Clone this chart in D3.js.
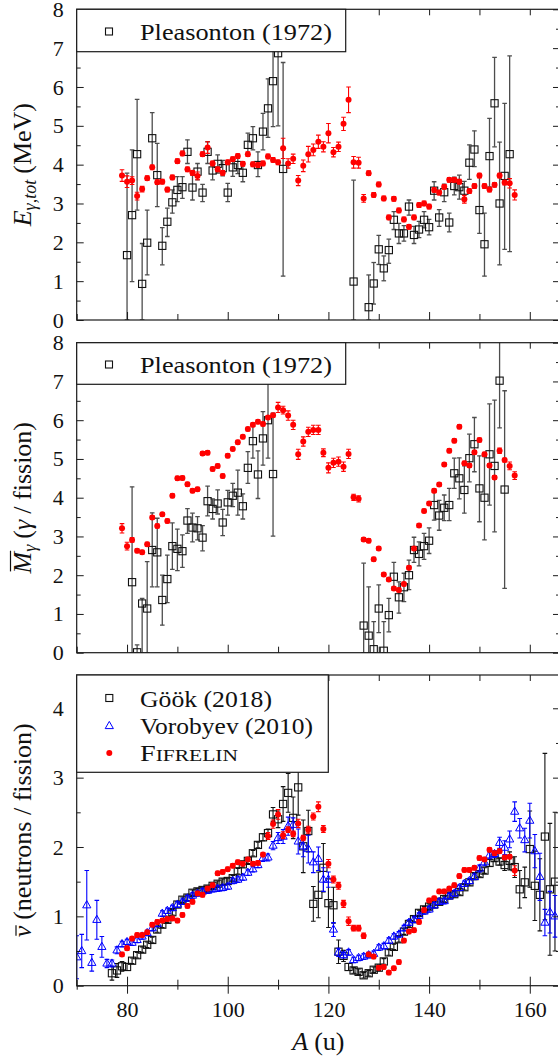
<!DOCTYPE html>
<html>
  <head>
    <meta charset="utf-8">
    <title>Fission observables vs fragment mass</title>
    <script src="https://cdn.jsdelivr.net/npm/d3@7"></script>
    <style>
      body { margin: 0; background: #fff; }
      svg text { font-family: "Liberation Serif", "Times New Roman", serif; fill: #111; }
    </style>
  </head>
  <body>
    <script>

      // ---- Pleasonton (1972), total gamma energy
      var pleasE_A = [80,81,82,83,84,85,86,87,88,89,90,91,92,93,94,95,96,97,98,99,100,101,102,103,104,105,106,107,108,109,110,111,
                      125,128,129,130,131,132,133,134,135,136,137,138,139,140,141,142,143,144,145,146,147,148,149,150,151,152,153,154,155,156];
      var pleasE = [1.67,2.70,4.27,0.93,1.99,4.68,3.73,1.91,2.53,3.03,3.35,3.42,4.33,3.41,3.82,3.28,4.33,3.85,4.02,3.91,
                    3.28,3.93,3.99,3.79,4.51,4.68,3.99,4.85,5.45,6.15,6.87,3.89,
                    0.99,0.33,0.94,1.82,1.33,1.80,2.58,2.23,2.23,2.92,2.19,2.33,2.58,2.39,3.33,2.64,3.29,2.51,3.45,3.42,3.33,
                    4.05,4.39,2.83,1.95,4.22,5.58,3.00,3.71,4.27];
      var pleasE_lo = [0,0.99,2.83,0,1.16,3.95,2.92,1.42,2.15,2.75,3.05,3.13,4.03,3.09,3.61,3.05,4.03,3.61,3.78,3.71,
                       3.05,3.70,3.77,3.56,4.25,4.38,3.69,4.38,4.70,4.98,5.00,1.13,
                       0,0,0.41,1.43,1.01,1.46,2.33,1.97,2.03,2.70,1.97,2.12,2.37,2.19,3.09,2.41,3.05,2.27,3.22,3.11,3.07,
                       3.62,3.95,2.23,1.13,3.43,4.46,1.42,1.82,1.76];
      var pleasE_hi = [3.78,4.38,5.68,1.97,2.83,5.34,4.55,2.38,2.88,3.35,3.69,3.69,4.64,3.73,4.03,3.49,4.59,4.08,4.25,4.11,
                       3.52,4.16,4.21,4.02,4.81,4.98,4.33,5.32,6.21,6.95,8.50,6.63,
                       3.60,1.16,1.48,2.18,1.65,2.08,2.79,2.49,2.43,3.09,2.41,2.54,2.79,2.59,3.56,2.84,3.50,2.75,3.68,3.73,3.57,
                       4.51,4.87,3.69,2.75,5.19,6.76,4.58,5.58,6.80];

      // ---- Pleasonton (1972), gamma multiplicity
      var pleasM_A = [81,82,83,84,85,86,87,88,89,90,91,92,93,94,95,96,97,98,99,100,101,102,103,104,105,106,107,108,109,
                      127,128,129,130,131,132,133,134,135,136,137,138,139,140,141,142,143,144,145,146,147,148,149,150,151,152,153,154,155];
      var pleasM = [1.82,0.01,1.27,1.14,2.65,2.59,1.36,1.90,2.75,2.68,2.62,3.41,3.23,3.21,2.97,3.91,3.71,3.85,3.36,3.88,
                    4.05,4.13,3.78,4.77,5.46,4.60,5.53,6.00,4.61,
                    0.70,0.44,0.09,1.14,0.05,0.97,1.96,1.43,1.69,2.00,2.65,2.55,2.75,2.89,3.81,3.54,3.74,3.81,4.63,4.50,
                    4.20,5.02,5.38,4.24,4.00,5.12,4.82,7.02,4.21];
      var pleasM_lo = [0,0,0,0,1.70,1.70,0.71,1.29,2.15,2.12,2.20,3.08,2.86,2.91,2.63,3.53,3.45,3.58,3.02,3.55,
                       3.77,3.55,3.45,4.37,5.02,3.98,4.84,5.02,3.01,
                       0,0,0,0.52,0,0.54,1.62,1.02,1.32,1.63,2.33,2.24,2.41,2.56,3.42,3.16,3.41,3.41,4.24,3.97,
                       3.60,4.41,4.67,3.38,2.91,3.81,3.12,5.80,1.66];
      var pleasM_hi = [4.28,0.20,1.40,2.35,3.61,3.47,2.00,2.52,3.35,3.19,3.04,3.72,3.60,3.51,3.28,4.30,3.97,4.20,3.70,4.19,
                       4.37,4.71,4.10,5.19,5.85,5.21,6.22,7.20,6.18,
                       2.31,1.70,0.80,1.75,0.80,1.40,2.33,1.83,2.05,2.39,2.98,2.86,3.08,3.22,4.14,3.93,4.07,4.24,5.02,5.03,
                       4.82,5.64,6.07,5.08,5.06,6.42,6.52,8.50,6.76];

      // ---- FIFRELIN (same masses in all three panels)
      var fifA = [79,80,81,82,83,84,85,86,87,88,89,90,91,92,93,94,95,96,97,98,99,100,101,102,103,104,105,106,107,108,
                  109,110,111,112,113,114,115,116,117,118,119,120,121,122,123,124,125,126,127,128,129,130,131,132,133,134,135,136,137,138,
                  139,140,141,142,143,144,145,146,147,148,149,150,151,152,153,154,155,156,157];
      var fifE = [3.72,3.56,3.59,3.19,3.37,3.65,3.93,3.55,3.56,3.36,
                  3.67,4.09,4.29,3.88,3.79,3.71,4.27,4.44,4.03,3.88,
                  3.79,4.06,4.14,4.22,4.02,4.27,4.01,3.99,4.03,4.21,
                  4.12,4.06,4.42,4.03,4.15,3.59,3.97,4.27,4.38,4.59,
                  4.46,4.81,4.32,4.46,5.05,5.67,4.06,4.05,3.13,3.78,
                  3.22,3.49,3.13,2.64,3.12,2.82,2.59,2.40,2.64,2.96,
                  3.00,2.92,3.35,3.28,3.43,3.61,3.61,3.56,3.11,3.32,
                  3.45,3.72,3.45,3.36,3.48,3.72,3.54,3.52,3.22];
      var fifE_err = [.15,.15,.10,.10,.07,.06,.06,.06,.06,.06,
                      .06,.06,.06,.06,.06,.10,.06,.15,.06,.06,
                      .06,.06,.06,.06,.06,.06,.06,.06,.06,.06,
                      .06,.06,.26,.12,.12,.13,.15,.20,.15,.17,
                      .13,.25,.12,.12,.17,.33,.15,.14,.10,.06,
                      .06,.06,.06,.06,.06,.06,.06,.06,.06,.06,
                      .06,.06,.06,.06,.06,.06,.06,.06,.10,.06,
                      .06,.06,.06,.06,.06,.06,.06,.12,.13];
      var fifM = [3.21,2.75,2.91,2.63,2.59,2.80,3.49,3.27,3.57,3.40,
                  4.05,4.50,4.51,4.35,4.18,4.22,5.14,5.16,4.74,4.82,
                  4.56,5.08,5.26,5.43,5.57,5.77,5.88,5.96,5.90,6.07,
                  6.13,6.33,6.26,6.12,5.88,5.12,5.45,5.70,5.75,5.75,
                  5.16,4.77,4.90,4.93,4.80,5.13,4.01,3.97,2.92,2.89,
                  2.41,2.69,2.02,1.89,1.66,1.62,1.77,2.19,2.69,3.28,
                  3.66,3.85,4.18,4.34,4.86,5.21,5.47,5.83,4.89,4.83,
                  5.17,5.49,5.12,4.83,4.52,5.21,4.97,4.82,4.57];
      var fifM_err = [.12,.10,.06,.05,.05,.05,.05,.05,.05,.05,
                      .05,.05,.05,.05,.05,.05,.05,.05,.05,.05,
                      .05,.05,.05,.05,.05,.05,.05,.05,.05,.05,
                      .05,.13,.10,.12,.12,.13,.12,.12,.12,.12,
                      .10,.13,.12,.12,.12,.12,.08,.08,.05,.05,
                      .05,.05,.05,.05,.05,.05,.05,.05,.05,.05,
                      .05,.05,.05,.05,.05,.05,.05,.05,.05,.05,
                      .05,.05,.05,.05,.05,.07,.05,.10,.10];
      var fifNu = [0.45,0.54,0.68,0.73,0.73,0.77,0.88,0.92,0.94,0.96,
                   0.97,0.94,1.02,1.15,1.21,1.33,1.31,1.40,1.45,1.62,
                   1.64,1.68,1.73,1.78,1.76,1.82,1.76,1.77,1.89,2.16,
                   2.33,2.47,2.17,2.25,2.19,2.34,2.13,2.25,2.44,2.58,
                   2.26,1.76,1.53,1.44,1.18,0.93,0.83,0.83,0.72,0.45,
                   0.42,0.26,0.27,0.19,0.25,0.34,0.65,0.78,0.80,0.92,
                   1.09,1.23,1.26,1.36,1.36,1.40,1.45,1.58,1.67,1.67,
                   1.70,1.84,1.82,1.96,1.91,1.94,1.85,1.86,1.66];
      var fifNu_err = [.03,.03,.03,.03,.03,.03,.03,.03,.03,.03,
                       .03,.03,.03,.03,.03,.03,.03,.03,.03,.03,
                       .03,.03,.03,.03,.03,.03,.03,.03,.03,.05,
                       .06,.07,.05,.04,.04,.06,.04,.05,.05,.07,
                       .05,.06,.05,.05,.05,.06,.04,.04,.04,.03,
                       .03,.03,.03,.03,.03,.03,.03,.03,.03,.03,
                       .03,.03,.03,.03,.03,.03,.03,.03,.03,.03,
                       .03,.03,.03,.03,.03,.03,.03,.03,.07];

      // ---- Göök (2018), neutron multiplicity
      var gookA = [77,78,79,80,81,82,83,84,85,86,87,88,89,90,91,92,93,94,95,96,97,98,99,100,101,102,103,104,105,106,
                   107,108,109,110,111,112,113,114,115,116,117,118,119,120,121,122,123,124,125,126,127,128,129,130,131,132,133,134,135,136,
                   137,138,139,140,141,142,143,144,145,146,147,148,149,150,151,152,153,154,155,156,157,158,159,160,161,162,163,164,165];
      var gookNu = [0.18,0.22,0.28,0.27,0.36,0.44,0.52,0.59,0.66,0.81,
                    0.88,0.95,1.06,1.17,1.24,1.27,1.34,1.36,1.38,1.40,
                    1.44,1.47,1.50,1.51,1.55,1.65,1.75,1.80,1.91,2.03,
                    2.14,2.20,2.47,2.40,2.62,2.78,2.42,2.86,2.01,2.23,
                    1.18,1.31,1.70,1.19,1.16,0.49,0.43,0.27,0.22,0.20,
                    0.15,0.18,0.23,0.26,0.35,0.48,0.56,0.67,0.78,0.89,
                    0.96,1.05,1.10,1.14,1.17,1.21,1.25,1.30,1.32,1.35,
                    1.42,1.49,1.58,1.61,1.66,1.77,1.84,1.79,1.74,1.80,
                    1.71,1.39,1.49,1.97,1.44,1.31,2.15,1.39,1.50];
      var gookErr = [.10,.10,.07,.05,.04,.04,.04,.04,.04,.04,
                     .04,.04,.04,.04,.04,.04,.04,.04,.04,.04,
                     .04,.04,.04,.04,.04,.04,.04,.04,.04,.04,
                     .05,.06,.10,.12,.25,.28,.30,.40,.38,.30,
                     .25,.33,.35,.35,.26,.17,.08,.05,.04,.04,
                     .04,.04,.04,.04,.04,.04,.04,.04,.04,.04,
                     .04,.04,.04,.04,.04,.04,.04,.04,.04,.04,
                     .04,.04,.04,.04,.04,.05,.05,.05,.08,.13,
                     .15,.27,.22,.55,.50,.52,1.20,.95,1.00];

      // ---- Vorobyev (2010), neutron multiplicity
      var vorA = [70,71,72,73,74,75,76,77,78,79,80,81,82,83,84,85,86,87,88,89,90,91,92,93,94,95,96,97,98,99,
                  100,101,102,103,104,105,106,107,108,109,110,111,112,113,114,115,116,117,118,119,120,121,122,123,124,125,126,127,128,129,
                  130,131,132,133,134,135,136,137,138,139,140,141,142,143,144,145,146,147,148,149,150,151,152,153,154,155,156,157,158,159,
                  160,161,162,163,164,165];
      var vorNu = [0.41,0.50,1.16,0.33,0.95,0.56,0.32,0.32,0.51,0.60,
                   0.63,0.62,0.66,0.71,0.76,0.83,0.89,1.04,1.08,1.12,
                   1.17,1.21,1.26,1.30,1.33,1.36,1.37,1.39,1.40,1.41,
                   1.43,1.51,1.53,1.56,1.63,1.68,1.74,1.84,1.85,2.02,
                   2.13,2.15,2.30,2.32,2.08,2.01,1.97,1.78,1.83,1.53,
                   1.53,0.81,0.48,0.44,0.48,0.37,0.40,0.42,0.44,0.46,
                   0.55,0.57,0.65,0.71,0.74,0.83,0.91,0.95,1.01,1.07,
                   1.10,1.16,1.21,1.22,1.29,1.33,1.41,1.47,1.51,1.57,
                   1.69,1.78,1.88,1.90,2.06,1.99,2.11,2.51,2.27,2.10,
                   2.38,1.94,1.57,0.91,1.06,1.00];
      var vorErr = [.31,.24,.50,.12,.28,.15,.06,.05,.05,.04,
                    .04,.04,.04,.04,.04,.04,.04,.04,.04,.04,
                    .04,.04,.04,.04,.04,.04,.04,.04,.04,.04,
                    .04,.04,.04,.04,.04,.04,.04,.05,.05,.06,
                    .08,.10,.13,.10,.18,.15,.20,.15,.17,.17,
                    .11,.10,.06,.04,.04,.04,.04,.04,.04,.04,
                    .04,.04,.04,.04,.04,.04,.04,.04,.04,.04,
                    .04,.04,.04,.04,.04,.04,.04,.04,.04,.04,
                    .05,.05,.05,.05,.08,.10,.12,.14,.14,.17,
                    .25,.24,.34,.19,.30,.30];

      var xTickLabels = [80, 100, 120, 140, 160];

      // ---------------------------------------------------------------
      var svg = d3.select("body").append("svg")
                  .attr("width", 558)
                  .attr("height", 1057);

      var X0 = 76.7, X1 = 560;
      var x = d3.scaleLinear().domain([70, 166]).range([X0, X1]);
      var ink = "#1a1a1a";
      var serif = "Liberation Serif, Times New Roman, serif";

      const makePanel = (id, top, bottom, ymax) => {
        var y = d3.scaleLinear().domain([0, ymax]).range([bottom, top]);
        svg.append("clipPath").attr("id", id)
           .append("rect").attr("x", X0).attr("y", top)
           .attr("width", X1 - X0).attr("height", bottom - top);
        var g = svg.append("g");
        var plot = g.append("g").attr("clip-path", "url(#" + id + ")");
        return {y: y, g: g, plot: plot, top: top, bottom: bottom};
      }

      const styleAxis = (sel) => {
        sel.select(".domain").remove();
        sel.attr("font-family", serif).attr("font-size", 22).attr("color", ink);
        sel.selectAll("line").attr("stroke-width", 1);
      }

      const drawAxes = (p, yMajor, yMinor, xMajor, xMinor, labels) => {
        p.g.append("g").attr("transform", "translate(" + X0 + ",0)")
           .call(d3.axisLeft(p.y).tickValues(yMajor).tickSize(-7).tickPadding(13).tickFormat(d3.format("d")))
           .call(styleAxis);
        p.g.append("g").attr("transform", "translate(" + X0 + ",0)")
           .call(d3.axisLeft(p.y).tickValues(yMinor).tickSize(-4).tickFormat(""))
           .call(styleAxis);
        p.g.append("g").attr("transform", "translate(" + X1 + ",0)")
           .call(d3.axisRight(p.y).tickValues(yMajor).tickSize(-7).tickFormat(""))
           .call(styleAxis);
        p.g.append("g").attr("transform", "translate(" + X1 + ",0)")
           .call(d3.axisRight(p.y).tickValues(yMinor).tickSize(-4).tickFormat(""))
           .call(styleAxis);
        p.g.append("g").attr("transform", "translate(0," + p.top + ")")
           .call(d3.axisTop(x).tickValues(xMajor.concat(xMinor)).tickSize(-6).tickFormat(""))
           .call(styleAxis);
        if (labels) {
          // ticks cross the bottom axis
          p.g.append("g").attr("transform", "translate(0," + p.bottom + ")")
             .call(d3.axisBottom(x).tickValues(xMajor).tickSize(8).tickPadding(8).tickFormat(d3.format("d")))
             .call(styleAxis);
          p.g.append("g").attr("transform", "translate(0," + p.bottom + ")")
             .call(d3.axisBottom(x).tickValues(xMajor).tickSize(-9).tickFormat(""))
             .call(styleAxis);
          p.g.append("g").attr("transform", "translate(0," + p.bottom + ")")
             .call(d3.axisBottom(x).tickValues(xMinor).tickSize(4).tickFormat(""))
             .call(styleAxis);
          p.g.append("g").attr("transform", "translate(0," + p.bottom + ")")
             .call(d3.axisBottom(x).tickValues(xMinor).tickSize(-6).tickFormat(""))
             .call(styleAxis);
        } else {
          p.g.append("g").attr("transform", "translate(0," + p.bottom + ")")
             .call(d3.axisBottom(x).tickValues(xMajor).tickSize(-8).tickFormat(""))
             .call(styleAxis);
          p.g.append("g").attr("transform", "translate(0," + p.bottom + ")")
             .call(d3.axisBottom(x).tickValues(xMinor).tickSize(-6).tickFormat(""))
             .call(styleAxis);
        }
        p.g.append("rect").attr("x", X0).attr("y", p.top)
           .attr("width", X1 - X0).attr("height", p.bottom - p.top)
           .attr("fill", "none").attr("stroke", ink).attr("stroke-width", 1.2);
      }

      const rows = (A, v, lo, hi) => A.map(function(a, i) { return {a: a, v: v[i], lo: lo[i], hi: hi[i]}; });
      const symRows = (A, v, e) => A.map(function(a, i) { return {a: a, v: v[i], lo: v[i] - e[i], hi: v[i] + e[i]}; });

      const errorBars = (layer, y, data, color, w) => {
        var g = layer.append("g").attr("stroke", color).attr("stroke-width", w);
        g.selectAll(null).data(data).enter().append("line")
         .attr("x1", function(d) { return x(d.a); }).attr("x2", function(d) { return x(d.a); })
         .attr("y1", function(d) { return y(d.lo); }).attr("y2", function(d) { return y(d.hi); });
        var caps = [];
        data.forEach(function(d) { caps.push({a: d.a, v: d.lo}); caps.push({a: d.a, v: d.hi}); });
        g.selectAll(null).data(caps).enter().append("line")
         .attr("x1", function(d) { return x(d.a) - 2.3; }).attr("x2", function(d) { return x(d.a) + 2.3; })
         .attr("y1", function(d) { return y(d.v); }).attr("y2", function(d) { return y(d.v); });
      }

      const squares = (layer, y, data) => {
        layer.append("g").selectAll("rect").data(data).enter().append("rect")
             .attr("x", function(d) { return x(d.a) - 3.6; })
             .attr("y", function(d) { return y(d.v) - 3.6; })
             .attr("width", 7.2).attr("height", 7.2)
             .attr("fill", "none").attr("stroke", "#111").attr("stroke-width", 1.1);
      }
      const dots = (layer, y, data) => {
        layer.append("g").selectAll("circle").data(data).enter().append("circle")
             .attr("cx", function(d) { return x(d.a); })
             .attr("cy", function(d) { return y(d.v); })
             .attr("r", 3).attr("fill", "#ff0000");
      }
      var triPath = "M0,-4.6L4.1,2.6L-4.1,2.6Z";
      const triangles = (layer, y, data) => {
        layer.append("g").selectAll("path").data(data).enter().append("path")
             .attr("d", triPath)
             .attr("transform", function(d) { return "translate(" + x(d.a) + "," + y(d.v) + ")"; })
             .attr("fill", "none").attr("stroke", "#0000ff").attr("stroke-width", 1);
      }

      const legendBox = (p, w, h) => {
        p.g.append("rect").attr("x", X0).attr("y", p.top).attr("width", w).attr("height", h)
           .attr("fill", "#fff").attr("stroke", ink).attr("stroke-width", 1.2);
      }
      const legendText = (p, ty, label, len) => {
        return p.g.append("text").attr("x", 140).attr("y", ty).attr("font-size", 23)
                  .attr("font-family", serif)
                  .attr("textLength", len).attr("lengthAdjust", "spacingAndGlyphs").text(label);
      }

      var xMajor = [80, 100, 120, 140, 160];
      var xMinor = [70, 90, 110, 130, 150];

      // ---- panel 1 : E_gamma,tot
      var p1 = makePanel("clip1", 9.3, 320, 8);
      errorBars(p1.plot, p1.y, rows(pleasE_A, pleasE, pleasE_lo, pleasE_hi), "#4d4d4d", 1.3);
      squares(p1.plot, p1.y, rows(pleasE_A, pleasE, pleasE_lo, pleasE_hi));
      errorBars(p1.plot, p1.y, symRows(fifA, fifE, fifE_err), "#ff0000", 1.1);
      dots(p1.plot, p1.y, symRows(fifA, fifE, fifE_err));
      drawAxes(p1, [0,1,2,3,4,5,6,7,8], [0.5,1.5,2.5,3.5,4.5,5.5,6.5,7.5], xMajor, xMinor, false);
      legendBox(p1, 269, 42.4);
      p1.g.append("rect").attr("x", 105.5).attr("y", 28).attr("width", 7).attr("height", 7)
          .attr("fill", "none").attr("stroke", "#111").attr("stroke-width", 1.1);
      legendText(p1, 39.5, "Pleasonton (1972)", 192);

      // ---- panel 2 : M_gamma
      var p2 = makePanel("clip2", 342.7, 652.7, 8);
      errorBars(p2.plot, p2.y, rows(pleasM_A, pleasM, pleasM_lo, pleasM_hi), "#4d4d4d", 1.3);
      squares(p2.plot, p2.y, rows(pleasM_A, pleasM, pleasM_lo, pleasM_hi));
      errorBars(p2.plot, p2.y, symRows(fifA, fifM, fifM_err), "#ff0000", 1.1);
      dots(p2.plot, p2.y, symRows(fifA, fifM, fifM_err));
      drawAxes(p2, [0,1,2,3,4,5,6,7,8], [0.5,1.5,2.5,3.5,4.5,5.5,6.5,7.5], xMajor, xMinor, false);
      legendBox(p2, 269, 41.6);
      p2.g.append("rect").attr("x", 105.5).attr("y", 361).attr("width", 7).attr("height", 7)
          .attr("fill", "none").attr("stroke", "#111").attr("stroke-width", 1.1);
      legendText(p2, 372.5, "Pleasonton (1972)", 192);

      // ---- panel 3 : nu
      var p3 = makePanel("clip3", 675, 985.7, 4.48);
      errorBars(p3.plot, p3.y, symRows(gookA, gookNu, gookErr), "#111", 1.1);
      squares(p3.plot, p3.y, symRows(gookA, gookNu, gookErr));
      errorBars(p3.plot, p3.y, symRows(vorA, vorNu, vorErr), "#0000ff", 1.1);
      triangles(p3.plot, p3.y, symRows(vorA, vorNu, vorErr));
      errorBars(p3.plot, p3.y, symRows(fifA, fifNu, fifNu_err), "#ff0000", 1.1);
      dots(p3.plot, p3.y, symRows(fifA, fifNu, fifNu_err));
      drawAxes(p3, [0,1,2,3,4], [0.5,1.5,2.5,3.5], xTickLabels, xMinor, true);
      legendBox(p3, 251.6, 97.3);
      p3.g.append("rect").attr("x", 105.8).attr("y", 694.5).attr("width", 7).attr("height", 7)
          .attr("fill", "none").attr("stroke", "#111").attr("stroke-width", 1.1);
      p3.g.append("path").attr("d", triPath).attr("transform", "translate(109.3,726)")
          .attr("fill", "none").attr("stroke", "#0000ff").attr("stroke-width", 1);
      p3.g.append("circle").attr("cx", 109.3).attr("cy", 753).attr("r", 3).attr("fill", "#ff0000");
      legendText(p3, 706.5, "Göök (2018)", 132);
      legendText(p3, 733.5, "Vorobyev (2010)", 173);
      var fif = p3.g.append("text").attr("x", 140).attr("y", 761).attr("font-size", 23)
                    .attr("font-family", serif)
                    .attr("textLength", 98).attr("lengthAdjust", "spacingAndGlyphs");
      fif.append("tspan").text("F");
      fif.append("tspan").attr("font-size", 17.5).text("IFRELIN");

      // ---- axis titles (rotated); bars over M and nu drawn as short lines
      const yTitle = (cy) => svg.append("g").attr("transform", "translate(31," + cy + ") rotate(-90)");
      const overBar = (g, t, lift, shift) => {
        var r = t.node().getExtentOfChar(0);
        g.append("line").attr("x1", r.x + shift).attr("x2", r.x + r.width + shift - 1)
         .attr("y1", r.y + lift).attr("y2", r.y + lift)
         .attr("stroke", "#111").attr("stroke-width", 1.2);
      }

      var g1 = yTitle((9.3 + 320) / 2);
      var t1 = g1.append("text").attr("text-anchor", "middle").attr("font-size", 26);
      t1.append("tspan").attr("font-style", "italic").text("E");
      t1.append("tspan").attr("font-style", "italic").attr("font-size", 18).attr("dy", 5).text("γ,tot");
      t1.append("tspan").attr("dy", -5).attr("dx", 6).text("(MeV)");

      var g2 = yTitle((342.7 + 652.7) / 2);
      var t2 = g2.append("text").attr("text-anchor", "middle").attr("font-size", 26);
      t2.append("tspan").attr("font-style", "italic").text("M");
      t2.append("tspan").attr("font-style", "italic").attr("font-size", 18).attr("dy", 5).text("γ");
      t2.append("tspan").attr("dy", -5).attr("dx", 6).text("(");
      t2.append("tspan").attr("font-style", "italic").text("γ");
      t2.append("tspan").attr("dx", 6).text("/ fission)");
      overBar(g2, t2, 2.5, 2);

      var g3 = yTitle((675 + 985.7) / 2);
      var t3 = g3.append("text").attr("text-anchor", "middle").attr("font-size", 26);
      t3.append("tspan").attr("font-style", "italic").text("ν");
      t3.append("tspan").attr("dx", 6).text("(neutrons / fission)");
      overBar(g3, t3, 8, 1.5);

      var tx = svg.append("text").attr("text-anchor", "middle").attr("font-size", 26)
                  .attr("x", (X0 + X1) / 2).attr("y", 1050);
      tx.append("tspan").attr("font-style", "italic").text("A");
      tx.append("tspan").attr("dx", 6).text("(u)");

    </script>
  </body>
</html>
